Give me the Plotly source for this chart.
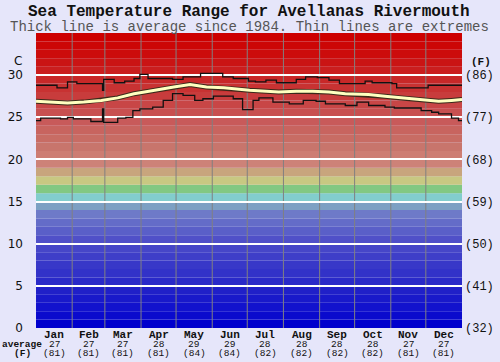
import plotly.graph_objects as go

# ---------------- data ----------------
months = ["Jan", "Feb", "Mar", "Apr", "May", "Jun", "Jul", "Aug", "Sep", "Oct", "Nov", "Dec"]
month_days = [31, 28, 31, 30, 31, 30, 31, 31, 30, 31, 30, 31]
avg_c = ["27", "27", "27", "28", "29", "29", "28", "28", "28", "28", "27", "27"]
avg_f = ["(81)", "(81)", "(81)", "(81)", "(84)", "(84)", "(82)", "(82)", "(82)", "(82)", "(81)", "(81)"]

# average (thick line), day of year -> deg C
avg_days = [0, 13, 27, 41, 56, 70, 84, 93, 104, 118, 132, 146, 161, 175, 183, 208, 223,
            237, 251, 265, 285, 299, 313, 328, 345, 356, 365]
avg_vals = [26.9, 26.8, 26.7, 26.8, 27.0, 27.3, 27.8, 28.0, 28.3, 28.6, 28.9, 28.6, 28.5,
            28.3, 28.2, 28.0, 28.1, 28.1, 28.0, 27.8, 27.7, 27.5, 27.3, 27.1, 26.9, 27.0, 27.1]

# maximum extreme (thin line)
max_days = [0, 18, 27, 35, 57, 58, 67, 76, 84, 89, 96, 117, 126, 141, 160, 169, 182, 188,
            197, 206, 223, 231, 241, 251, 260, 282, 288, 305, 309, 336, 365]
max_vals = [28.8, 28.5, 29.2, 29.0, 28.2, 29.5, 29.1, 29.3, 29.6, 30.1, 29.6, 29.5, 29.8,
            30.2, 29.8, 29.6, 29.3, 29.2, 29.4, 29.1, 29.5, 29.8, 29.7, 29.4, 29.0, 29.3,
            29.1, 29.0, 28.5, 28.8, 28.8]

# minimum extreme (thin line)
min_days = [0, 4, 21, 27, 32, 47, 57, 58, 70, 77, 83, 89, 100, 109, 117, 126, 136, 143,
            152, 169, 177, 186, 191, 203, 217, 229, 240, 248, 265, 275, 285, 299, 307, 330,
            339, 345, 356, 362, 365]
min_vals = [24.6, 24.9, 24.8, 25.0, 24.8, 24.5, 26.0, 24.4, 24.9, 25.0, 25.8, 26.0, 26.2,
            27.0, 27.8, 27.6, 27.0, 27.2, 27.5, 27.2, 25.9, 27.0, 27.3, 26.8, 26.6, 27.0,
            26.9, 26.6, 26.4, 26.8, 26.4, 26.2, 26.1, 25.8, 25.6, 25.4, 24.9, 24.6, 24.6]

y_ticks_c = [0, 5, 10, 15, 20, 25, 30]
y_ticks_f = ["(32)", "(41)", "(50)", "(59)", "(68)", "(77)", "(86)"]

# ---------------- style ----------------
band_colors = [
    (0, 0, 205), (10, 10, 205), (18, 18, 205), (25, 25, 202), (32, 32, 200),
    (42, 42, 200), (50, 50, 200), (56, 56, 200), (62, 62, 200), (70, 70, 200),
    (80, 80, 200), (90, 95, 200), (100, 108, 200), (110, 122, 200), (125, 160, 195),
    (130, 205, 205), (130, 200, 130), (200, 200, 130), (200, 165, 125), (205, 130, 120),
    (205, 125, 115), (200, 117, 108), (200, 108, 100), (200, 100, 95), (200, 90, 90),
    (200, 80, 80), (200, 70, 70), (200, 60, 60), (200, 50, 50), (200, 40, 40),
    (202, 30, 30), (202, 20, 20), (204, 12, 12), (204, 6, 6), (205, 0, 0),
]

bg = "#E6E6FA"
mono = "Liberation Mono, Courier New, monospace"
ink = "#111111"

fig = go.Figure()

fig.add_trace(go.Scatter(x=max_days, y=max_vals, mode="lines", line=dict(color=ink, width=1.3, shape="hv"),
                         hoverinfo="skip", showlegend=False))
fig.add_trace(go.Scatter(x=min_days, y=min_vals, mode="lines", line=dict(color=ink, width=1.3, shape="hv"),
                         hoverinfo="skip", showlegend=False))
fig.add_trace(go.Scatter(x=avg_days, y=avg_vals, mode="lines", line=dict(color="#3a2a1a", width=5),
                         hoverinfo="skip", showlegend=False))
fig.add_trace(go.Scatter(x=avg_days, y=avg_vals, mode="lines", line=dict(color="#FFFFC0", width=3),
                         hoverinfo="skip", showlegend=False))
# invisible trace for right axis
fig.add_trace(go.Scatter(x=[0], y=[0], yaxis="y2", mode="markers", marker=dict(opacity=0),
                         hoverinfo="skip", showlegend=False))

shapes = []
for i, c in enumerate(band_colors):
    shapes.append(dict(type="rect", xref="paper", yref="y", x0=0, x1=1, y0=i, y1=i + 1,
                       fillcolor="rgb(%d,%d,%d)" % c, line=dict(width=0), layer="below"))
starts = []
acc = 0
for d in month_days:
    starts.append(acc)
    acc += d
for s in starts[1:]:
    shapes.append(dict(type="line", xref="x", yref="paper", x0=s, x1=s, y0=0, y1=1,
                       line=dict(color="rgb(128,128,128)", width=1), layer="below"))

centers = [s + d / 2 for s, d in zip(starts, month_days)]

T = 33  # plot top in px
annotations = [
    dict(text="<b>Sea Temperature Range for Avellanas Rivermouth</b>", xref="paper", yref="paper",
         x=0.5, y=1, yanchor="middle", yshift=T - 12, xanchor="center", showarrow=False,
         font=dict(family=mono, size=16, color=ink)),
    dict(text="Thick line is average since 1984. Thin lines are extremes",
         xref="paper", yref="paper", x=0.5, y=1, yanchor="middle", yshift=T - 27,
         xanchor="center", showarrow=False, font=dict(family=mono, size=14, color="#555555")),
    dict(text="C", xref="paper", yref="paper", x=0, y=1, xanchor="center", yanchor="middle",
         xshift=-18, yshift=T - 61, showarrow=False, font=dict(family="DejaVu Sans", size=12, color=ink)),
    dict(text="<b>(F)</b>", xref="paper", yref="paper", x=1, y=1, xanchor="center", yanchor="middle",
         xshift=19, yshift=T - 62, showarrow=False, font=dict(family=mono, size=11, color=ink)),
]
for cx, m, a, f in zip(centers, months, avg_c, avg_f):
    annotations.append(dict(text="<b>%s</b>" % m, xref="x", yref="paper", x=cx, y=0, xanchor="center",
                            yanchor="middle", yshift=-6.5, showarrow=False,
                            font=dict(family=mono, size=11, color=ink)))
    annotations.append(dict(text=a, xref="x", yref="paper", x=cx, y=0, xanchor="center",
                            yanchor="middle", yshift=-16, showarrow=False,
                            font=dict(family=mono, size=9.5, color=ink)))
    annotations.append(dict(text=f, xref="x", yref="paper", x=cx, y=0, xanchor="center",
                            yanchor="middle", yshift=-25, showarrow=False,
                            font=dict(family=mono, size=9.5, color=ink)))
annotations.append(dict(text="<b>average</b>", xref="paper", yref="paper", x=0, y=0, xanchor="center",
                        yanchor="middle", xshift=-14, yshift=-16, showarrow=False,
                        font=dict(family=mono, size=9.5, color=ink)))
annotations.append(dict(text="<b>(F)</b>", xref="paper", yref="paper", x=0, y=0, xanchor="center",
                        yanchor="middle", xshift=-14, yshift=-25, showarrow=False,
                        font=dict(family=mono, size=9.5, color=ink)))

fig.update_layout(
    width=500, height=362,
    margin=dict(l=36, r=38, t=T, b=34, pad=0, autoexpand=False),
    paper_bgcolor=bg, plot_bgcolor=bg,
    shapes=shapes, annotations=annotations,
    xaxis=dict(range=[0, 365], showgrid=False, zeroline=False, showticklabels=False, ticks="",
               fixedrange=True, automargin=False),
    yaxis=dict(range=[0, 35], tickvals=y_ticks_c, ticktext=[str(v) for v in y_ticks_c],
               showgrid=True, gridcolor="white", gridwidth=2, zeroline=False, ticks="",
               ticklabelstandoff=12, fixedrange=True, automargin=False,
               tickfont=dict(family="DejaVu Sans", size=12, color=ink)),
    yaxis2=dict(range=[0, 35], overlaying="y", side="right", tickvals=y_ticks_c, ticktext=y_ticks_f,
                showgrid=False, zeroline=False, ticks="", ticklabelstandoff=2, fixedrange=True,
                automargin=False, tickfont=dict(family=mono, size=12, color=ink)),
)

fig.write_html(
    "out.html",
    config={"displayModeBar": False},
    post_script="document.body.style.margin='0';document.body.style.background='%s';"
                "document.body.style.overflow='hidden';" % bg,
)
